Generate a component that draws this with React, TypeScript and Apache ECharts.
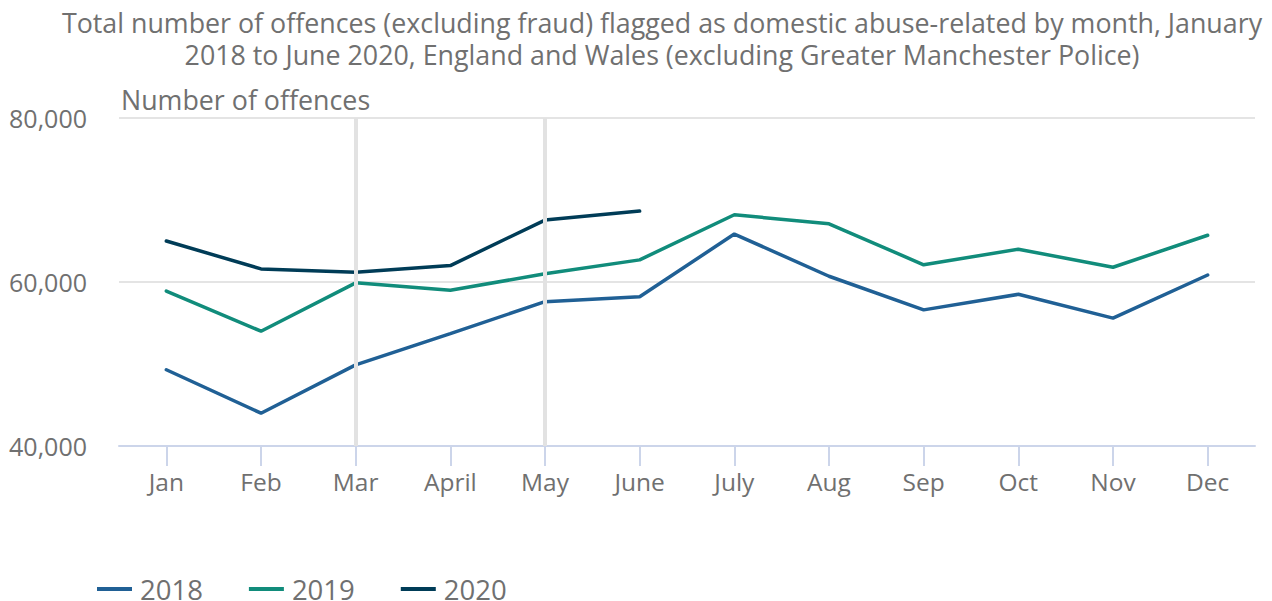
import React, { useEffect, useRef } from "react";
import * as echarts from "echarts";

const months = ["Jan", "Feb", "Mar", "April", "May", "June", "July", "Aug", "Sep", "Oct", "Nov", "Dec"];
const s2018 = [49300, 44000, 49900, 53700, 57600, 58200, 65850, 60700, 56600, 58500, 55600, 60850];
const s2019 = [58900, 54000, 59900, 59000, 61000, 62700, 68200, 67100, 62100, 64000, 61800, 65700];
const s2020 = [65000, 61600, 61200, 62000, 67550, 68650];
const markerMonths = ["Mar", "May"];
const yTicks = { min: 40000, max: 80000, interval: 20000 };

const titleLines = [
  "Total number of offences (excluding fraud) flagged as domestic abuse-related by month, January",
  "2018 to June 2020, England and Wales (excluding Greater Manchester Police)",
];

export default function App() {
  const ref = useRef<HTMLDivElement>(null);
  useEffect(() => {
    document.body.style.margin = "0";
    const chart = echarts.init(ref.current!, null, { renderer: "svg" });
    const font = "'Open Sans', sans-serif";
    const grey = "#707070";
    chart.setOption({
      animation: false,
      textStyle: { fontFamily: font },
      graphic: [
        ...titleLines.map((t, i) => ({
          type: "text",
          x: 662,
          y: 22 + i * 32,
          style: {
            text: t,
            fill: grey,
            font: `26.8px ${font}`,
            textAlign: "center",
            textVerticalAlign: "middle",
          },
        })),
        {
          type: "text",
          x: 121,
          y: 86,
          style: { text: "Number of offences", fill: grey, font: `26.8px ${font}` },
        },
      ],
      legend: {
        left: 97,
        top: 575,
        padding: 0,
        itemWidth: 35,
        itemHeight: 4,
        itemGap: 46,
        icon: "rect",
        textStyle: { color: grey, fontSize: 27.5, fontFamily: font, padding: [0, 0, 0, 3] },
        data: ["2018", "2019", "2020"],
      },
      grid: { left: 119, right: 17, top: 118, bottom: 155 },
      xAxis: {
        type: "category",
        data: months,
        boundaryGap: true,
        axisLine: { lineStyle: { color: "#ccd5ea", width: 2 } },
        axisTick: { show: true, alignWithLabel: true, length: 20, lineStyle: { color: "#ccd5ea", width: 2 } },
        axisLabel: { color: grey, fontSize: 24.5, margin: 23, fontFamily: font },
      },
      yAxis: {
        type: "value",
        min: yTicks.min,
        max: yTicks.max,
        interval: yTicks.interval,
        axisLine: { show: false },
        axisTick: { show: false },
        axisLabel: {
          color: grey,
          fontSize: 25,
          margin: 32,
          fontFamily: font,
          formatter: (v: number) => v.toLocaleString("en-GB"),
        },
        splitLine: { lineStyle: { color: "#e4e4e4", width: 2 } },
      },
      series: [
        {
          name: "markers",
          type: "line",
          data: [],
          z: 1,
          markLine: {
            silent: true,
            symbol: "none",
            label: { show: false },
            lineStyle: { color: "#e2e2e2", width: 4, type: "solid" },
            data: markerMonths.map((m) => ({ xAxis: m })),
          },
        },
        {
          name: "2018",
          type: "line",
          data: s2018,
          showSymbol: false,
          z: 3,
          color: "#206095",
          lineStyle: { width: 3.5, color: "#206095", cap: "round" },
        },
        {
          name: "2019",
          type: "line",
          data: s2019,
          showSymbol: false,
          z: 3,
          color: "#118c7b",
          lineStyle: { width: 3.5, color: "#118c7b", cap: "round" },
        },
        {
          name: "2020",
          type: "line",
          data: s2020,
          showSymbol: false,
          z: 3,
          color: "#003c57",
          lineStyle: { width: 3.5, color: "#003c57", cap: "round" },
        },
      ],
    });
    return () => chart.dispose();
  }, []);
  return <div ref={ref} style={{ width: 1272, height: 601 }} />;
}
